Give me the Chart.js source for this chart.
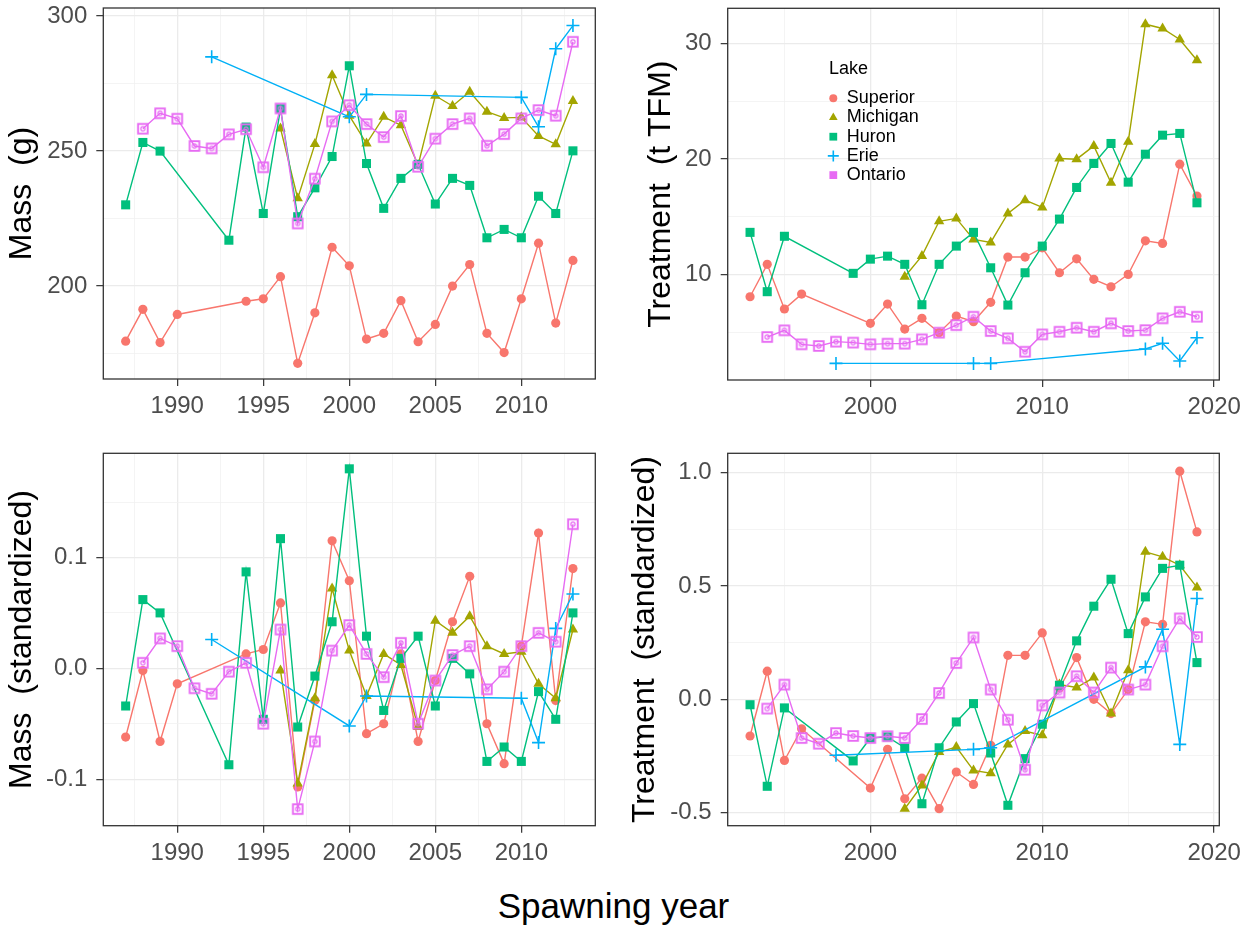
<!DOCTYPE html>
<html>
<head>
<meta charset="utf-8">
<script src="https://cdn.jsdelivr.net/npm/chart.js@4.4.1/dist/chart.umd.min.js"></script>
<style>
  body { margin: 0; background: #fff; width: 1241px; height: 930px; position: relative; overflow: hidden;
         font-family: "Liberation Sans", Arial, sans-serif; }
  canvas { position: absolute; }
  #xtitle { position: absolute; left: 0; width: 1227px; top: 888px; text-align: center;
            font-size: 35px; line-height: 35px; color: #000; }
</style>
</head>
<body>
<canvas id="massChart" width="610" height="440" style="left:0;top:0"></canvas>
<canvas id="treatChart" width="621" height="440" style="left:620px;top:0"></canvas>
<canvas id="massStdChart" width="610" height="440" style="left:0;top:440px"></canvas>
<canvas id="treatStdChart" width="621" height="440" style="left:620px;top:440px"></canvas>
<div id="xtitle">Spawning year</div>

<script>
const lakes = ['Superior', 'Michigan', 'Huron', 'Erie', 'Ontario'];
const lakeColors = ['#F8766D', '#A3A500', '#00BF7D', '#00B0F6', '#E76BF3'];

// spawning years, mass panels
const superiorYearsA = [1987, 1988, 1989, 1990, 1994, 1995, 1996, 1997, 1998, 1999, 2000, 2001, 2002, 2003, 2004, 2005, 2006, 2007, 2008, 2009, 2010, 2011, 2012, 2013];
const michiganYearsA = [1996, 1997, 1998, 1999, 2000, 2001, 2002, 2003, 2004, 2005, 2006, 2007, 2008, 2009, 2010, 2011, 2012, 2013];
const huronYearsA = [1987, 1988, 1989, 1993, 1994, 1995, 1996, 1997, 1998, 1999, 2000, 2001, 2002, 2003, 2004, 2005, 2006, 2007, 2008, 2009, 2010, 2011, 2012, 2013];
const erieYearsA = [1992, 2000, 2001, 2010, 2011, 2012, 2013];
const ontarioYearsA = [1988, 1989, 1990, 1991, 1992, 1993, 1994, 1995, 1996, 1997, 1998, 1999, 2000, 2001, 2002, 2003, 2004, 2005, 2006, 2007, 2008, 2009, 2010, 2011, 2012, 2013];

// mass (g)
const superiorMass = [179.6, 191.4, 179.1, 189.5, 194.4, 195.3, 203.5, 171.4, 190.1, 214.4, 207.5, 180.4, 182.5, 194.6, 179.4, 185.8, 200.0, 208.0, 182.5, 175.4, 195.3, 215.9, 186.3, 209.5];
const michiganMass = [258.4, 232.5, 252.6, 278.1, 263.1, 252.8, 262.7, 259.6, 244.8, 270.5, 266.7, 272.0, 264.6, 262.3, 262.5, 255.6, 252.5, 268.6];
const huronMass = [230.1, 253.2, 250.0, 217.0, 258.9, 226.9, 265.7, 225.7, 236.4, 248.0, 281.6, 245.4, 228.8, 239.9, 245.1, 230.4, 239.9, 237.3, 217.9, 221.0, 217.9, 233.3, 226.9, 250.1];
const erieMass = [284.9, 262.7, 271.0, 269.9, 259.0, 287.9, 296.5];
const ontarioMass = [258.3, 264.0, 262.0, 251.9, 251.0, 256.2, 258.1, 244.0, 265.8, 223.2, 239.8, 261.0, 267.0, 260.0, 255.2, 263.0, 244.2, 254.6, 260.0, 262.1, 252.0, 256.3, 262.1, 265.2, 263.1, 290.5];

// mass (standardized)
const superiorMassStd = [-0.062, -0.002, -0.066, -0.014, 0.013, 0.017, 0.059, -0.107, -0.029, 0.115, 0.079, -0.059, -0.050, 0.013, -0.066, -0.011, 0.042, 0.083, -0.050, -0.086, 0.020, 0.122, -0.029, 0.090];
const michiganMassStd = [-0.002, -0.104, -0.027, 0.072, 0.016, -0.025, 0.013, 0.003, -0.053, 0.043, 0.032, 0.047, 0.020, 0.013, 0.015, -0.014, -0.027, 0.035];
const huronMassStd = [-0.034, 0.062, 0.050, -0.087, 0.087, -0.046, 0.117, -0.053, -0.007, 0.042, 0.180, 0.029, -0.038, 0.009, 0.029, -0.034, 0.009, -0.005, -0.084, -0.071, -0.084, -0.021, -0.046, 0.050];
const erieMassStd = [0.026, -0.052, -0.025, -0.027, -0.067, 0.036, 0.067];
const ontarioMassStd = [0.005, 0.027, 0.020, -0.018, -0.023, -0.003, 0.005, -0.050, 0.035, -0.127, -0.066, 0.016, 0.039, 0.013, -0.008, 0.023, -0.050, -0.011, 0.012, 0.020, -0.019, -0.003, 0.020, 0.032, 0.024, 0.130];

// spawning years, treatment panels
const superiorYearsB = [1993, 1994, 1995, 1996, 2000, 2001, 2002, 2003, 2004, 2005, 2006, 2007, 2008, 2009, 2010, 2011, 2012, 2013, 2014, 2015, 2016, 2017, 2018, 2019];
const michiganYearsB = [2002, 2003, 2004, 2005, 2006, 2007, 2008, 2009, 2010, 2011, 2012, 2013, 2014, 2015, 2016, 2017, 2018, 2019];
const huronYearsB = [1993, 1994, 1995, 1999, 2000, 2001, 2002, 2003, 2004, 2005, 2006, 2007, 2008, 2009, 2010, 2011, 2012, 2013, 2014, 2015, 2016, 2017, 2018, 2019];
const erieYearsB = [1998, 2006, 2007, 2016, 2017, 2018, 2019];
const ontarioYearsB = [1994, 1995, 1996, 1997, 1998, 1999, 2000, 2001, 2002, 2003, 2004, 2005, 2006, 2007, 2008, 2009, 2010, 2011, 2012, 2013, 2014, 2015, 2016, 2017, 2018, 2019];

// treatment (t TFM)
const superiorTreat = [8.06, 10.87, 7.0, 8.29, 5.76, 7.43, 5.26, 6.19, 4.95, 6.39, 5.90, 7.58, 11.5, 11.5, 12.3, 10.14, 11.35, 9.57, 8.93, 10.0, 12.91, 12.68, 19.55, 16.78];
const michiganTreat = [9.8, 11.6, 14.6, 14.85, 13.03, 12.77, 15.28, 16.43, 15.8, 20.04, 19.98, 21.13, 17.93, 21.48, 31.67, 31.3, 30.35, 28.55];
const huronTreat = [13.64, 8.5, 13.3, 10.09, 11.32, 11.58, 10.87, 7.37, 10.87, 12.45, 13.64, 10.57, 7.34, 10.14, 12.45, 14.79, 17.53, 19.61, 21.34, 17.99, 20.41, 22.06, 22.21, 16.2];
const erieTreat = [2.29, 2.29, 2.29, 3.54, 4.03, 2.5, 4.51];
const ontarioTreat = [4.57, 5.15, 3.94, 3.8, 4.17, 4.09, 3.94, 4.0, 4.0, 4.37, 4.95, 5.6, 6.33, 5.09, 4.46, 3.3, 4.8, 5.03, 5.38, 5.03, 5.76, 5.09, 5.17, 6.19, 6.76, 6.33];

// treatment (standardized)
const superiorTreatStd = [-0.162, 0.124, -0.27, -0.13, -0.392, -0.221, -0.439, -0.348, -0.483, -0.321, -0.376, -0.203, 0.194, 0.194, 0.293, 0.05, 0.184, 0.0, -0.063, 0.043, 0.342, 0.331, 1.007, 0.739];
const michiganTreatStd = [-0.483, -0.38, -0.233, -0.211, -0.314, -0.326, -0.199, -0.14, -0.159, 0.065, 0.052, 0.096, -0.063, 0.128, 0.651, 0.629, 0.592, 0.494];
const huronTreatStd = [-0.024, -0.384, -0.038, -0.272, -0.171, -0.166, -0.214, -0.461, -0.214, -0.1, -0.019, -0.237, -0.468, -0.262, -0.11, 0.062, 0.258, 0.411, 0.53, 0.29, 0.452, 0.578, 0.592, 0.162];
const erieTreatStd = [-0.247, -0.221, -0.214, 0.143, 0.309, -0.199, 0.445];
const ontarioTreatStd = [-0.041, 0.065, -0.171, -0.196, -0.149, -0.162, -0.171, -0.163, -0.171, -0.087, 0.028, 0.16, 0.273, 0.043, -0.09, -0.311, -0.027, 0.03, 0.102, 0.03, 0.14, 0.043, 0.065, 0.234, 0.357, 0.275];

// tick values (major get labels, minor only grid lines)
const yearTicksA = [1990, 1995, 2000, 2005, 2010];
const yearMinorA = [1987.5, 1992.5, 1997.5, 2002.5, 2007.5, 2012.5];
const yearTicksB = [2000, 2010, 2020];
const yearMinorB = [1995, 2005, 2015];
const massTicks = [200, 250, 300];
const massMinor = [175, 225, 275];
const treatTicks = [10, 20, 30];
const treatMinor = [5, 15, 25];
const massStdTicks = [-0.1, 0, 0.1];
const massStdMinor = [-0.05, 0.05, 0.15];
const treatStdTicks = [-0.5, 0, 0.5, 1.0];
const treatStdMinor = [-0.25, 0.25, 0.75];

const FONT = '"Liberation Sans", Arial, sans-serif';
Chart.defaults.font.family = FONT;

// open square with a small ring, for Ontario
function ontarioMarker(color) {
  const c = document.createElement('canvas');
  c.width = 14; c.height = 14;
  const g = c.getContext('2d');
  g.strokeStyle = color;
  g.lineWidth = 1.9;
  g.strokeRect(2.2, 2.2, 9.6, 9.6);
  g.lineWidth = 1.2;
  g.beginPath(); g.arc(7, 7, 2.1, 0, Math.PI * 2); g.stroke();
  return c;
}

const lakeShapes = [
  { pointStyle: 'circle', pointRadius: 4.6, pointBorderWidth: 0 },
  { pointStyle: 'triangle', pointRadius: 6, pointBorderWidth: 0 },
  { pointStyle: 'rect', pointRadius: 6.4, pointBorderWidth: 0 },
  { pointStyle: 'cross', pointRadius: 6.5, pointBorderWidth: 1.6 },
  { pointStyle: ontarioMarker(lakeColors[4]), pointRadius: 5, pointBorderWidth: 0 }
];

function lakeDataset(i, years, vals) {
  return Object.assign({
    label: lakes[i],
    data: years.map((yr, k) => ({ x: yr, y: vals[k] })),
    borderColor: lakeColors[i],
    backgroundColor: lakeColors[i],
    pointBackgroundColor: lakeColors[i],
    pointBorderColor: lakeColors[i],
    borderWidth: 1.4,
    tension: 0,
    order: lakes.length - i,
    clip: false
  }, lakeShapes[i]);
}

function axis(dir, a) {
  const all = a.major.concat(a.minor).sort((p, q) => p - q);
  const isMajor = c => c.tick && a.major.includes(c.tick.value);
  const cfg = {
    type: 'linear', min: a.min, max: a.max,
    afterBuildTicks: s => { s.ticks = all.map(v => ({ value: v })); },
    afterFit: s => {
      // fixed box sizes, no extra room for half labels
      if (dir === 'x') { s.height = a.size; s.paddingLeft = 0; s.paddingRight = 0; }
      else { s.width = a.size; s.paddingTop = 0; s.paddingBottom = 0; }
    },
    border: { display: false },
    grid: {
      color: c => isMajor(c) ? '#EBEBEB' : '#F1F1F1',
      lineWidth: c => isMajor(c) ? 1.3 : 0.8,
      tickColor: c => isMajor(c) ? '#333333' : 'rgba(0,0,0,0)',
      tickWidth: 1.2,
      tickLength: 7
    },
    ticks: {
      autoSkip: false, maxRotation: 0, minRotation: 0,
      padding: dir === 'x' ? 6 : 9,
      color: '#4D4D4D', font: { size: 24 },
      callback: v => a.major.includes(v) ? a.fmt(v) : ''
    },
    title: { display: false }
  };
  if (a.title) {
    cfg.title = { display: true, text: a.title, color: '#000', font: { size: 32 },
                  padding: { top: a.titlePad, bottom: 0 } };
  }
  return cfg;
}

const panelBorder = {
  id: 'panelBorder',
  afterDraw(chart) {
    const { ctx, chartArea: a } = chart;
    ctx.save();
    ctx.strokeStyle = '#333333';
    ctx.lineWidth = 1.3;
    ctx.strokeRect(a.left, a.top, a.right - a.left, a.bottom - a.top);
    ctx.restore();
  }
};

const legendShapes = [
  { pointStyle: 'circle', radius: 4, borderWidth: 0 },
  { pointStyle: 'triangle', radius: 5, borderWidth: 0 },
  { pointStyle: 'rect', radius: 5.5, borderWidth: 0 },
  { pointStyle: 'cross', radius: 5.5, borderWidth: 1.6 },
  { pointStyle: 'rect', radius: 5.5, borderWidth: 0 }
];

const lakeLegend = {
  id: 'lakeLegend',
  afterDraw(chart, args, o) {
    if (!o.show) return;
    const g = chart.ctx;
    g.save();
    g.font = '18px ' + FONT;
    g.textBaseline = 'middle';
    g.textAlign = 'left';
    g.fillStyle = '#000';
    g.fillText('Lake', o.x, o.y);
    lakes.forEach((name, i) => {
      const y = o.y + o.first + i * o.gap;
      g.fillStyle = lakeColors[i];
      g.strokeStyle = lakeColors[i];
      g.lineWidth = legendShapes[i].borderWidth;
      Chart.helpers.drawPoint(g, Object.assign({ rotation: 0 }, legendShapes[i]), o.x + 4.3, y);
      g.fillStyle = '#000';
      g.fillText(name, o.x + 17.7, y);
    });
    g.restore();
  }
};

function panel(id, p) {
  return new Chart(document.getElementById(id).getContext('2d'), {
    type: 'line',
    data: { datasets: p.series.map((s, i) => lakeDataset(i, s[0], s[1])) },
    options: {
      responsive: false,
      animation: false,
      events: [],
      layout: { autoPadding: false, padding: p.padding },
      plugins: {
        legend: { display: false },
        tooltip: { enabled: false },
        lakeLegend: p.legend || { show: false }
      },
      scales: { x: axis('x', p.x), y: axis('y', p.y) }
    },
    plugins: [panelBorder, lakeLegend]
  });
}

const str = v => String(v);
const one = v => v.toFixed(1);

panel('massChart', {
  padding: { left: 0, top: 8, right: 14.7, bottom: 0 },
  series: [[superiorYearsA, superiorMass], [michiganYearsA, michiganMass], [huronYearsA, huronMass],
           [erieYearsA, erieMass], [ontarioYearsA, ontarioMass]],
  x: { min: 1985.7, max: 2014.3, major: yearTicksA, minor: yearMinorA, fmt: str, size: 61 },
  y: { min: 165.6, max: 303.0, major: massTicks, minor: massMinor, fmt: str, size: 103.3,
       title: 'Mass  (g)', titlePad: 2.8 }
});

panel('treatChart', {
  padding: { left: 0, top: 8.3, right: 21.7, bottom: 0 },
  series: [[superiorYearsB, superiorTreat], [michiganYearsB, michiganTreat], [huronYearsB, huronTreat],
           [erieYearsB, erieTreat], [ontarioYearsB, ontarioTreat]],
  x: { min: 1991.7, max: 2020.3, major: yearTicksB, minor: yearMinorB, fmt: str, size: 60 },
  y: { min: 0.85, max: 33.05, major: treatTicks, minor: treatMinor, fmt: str, size: 107.7,
       title: 'Treatment  (t TFM)', titlePad: 21.8 },
  legend: { show: true, x: 209, y: 69, first: 29.3, gap: 19.2 }
});

panel('massStdChart', {
  padding: { left: 0, top: 13.3, right: 14.7, bottom: 0 },
  series: [[superiorYearsA, superiorMassStd], [michiganYearsA, michiganMassStd], [huronYearsA, huronMassStd],
           [erieYearsA, erieMassStd], [ontarioYearsA, ontarioMassStd]],
  x: { min: 1985.7, max: 2014.3, major: yearTicksA, minor: yearMinorA, fmt: str, size: 54.3 },
  y: { min: -0.142, max: 0.194, major: massStdTicks, minor: massStdMinor, fmt: one, size: 103.3,
       title: 'Mass  (standardized)', titlePad: 2.8 }
});

panel('treatStdChart', {
  padding: { left: 0, top: 13.3, right: 21.7, bottom: 0 },
  series: [[superiorYearsB, superiorTreatStd], [michiganYearsB, michiganTreatStd], [huronYearsB, huronTreatStd],
           [erieYearsB, erieTreatStd], [ontarioYearsB, ontarioTreatStd]],
  x: { min: 1991.7, max: 2020.3, major: yearTicksB, minor: yearMinorB, fmt: str, size: 54.3 },
  y: { min: -0.558, max: 1.086, major: treatStdTicks, minor: treatStdMinor, fmt: one, size: 107.7,
       title: 'Treatment  (standardized)', titlePad: 5.8 }
});
</script>
</body>
</html>
